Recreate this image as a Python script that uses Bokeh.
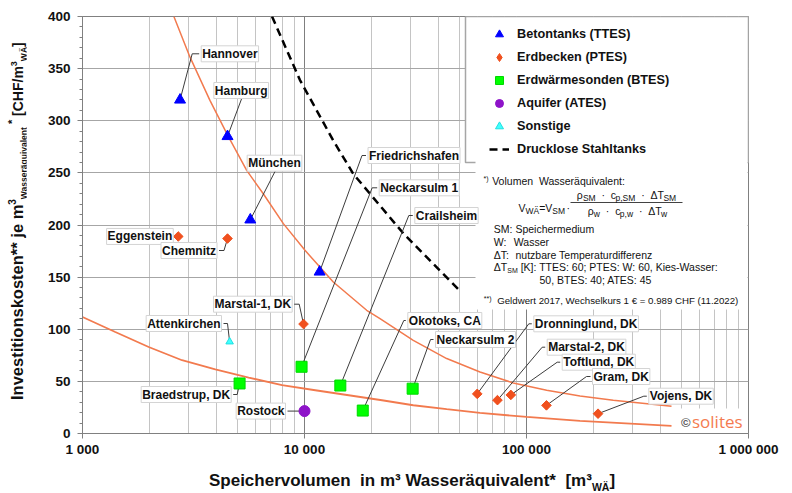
import math
from bokeh.plotting import figure
from bokeh.models import Range1d, FixedTicker, Label, Legend, LegendItem, Div
from bokeh.layouts import row, column
from bokeh.embed import file_html
from bokeh.resources import INLINE

# ---------------- data ----------------
TTES_NAMES = ["Hannover", "Hamburg", "München", "Friedrichshafen"]
TTES_VOL = [2750, 4500, 5700, 11700]
TTES_COST = [320, 285, 205, 155]

PTES_NAMES = ["Eggenstein", "Chemnitz", "Marstal-1, DK", "Dronninglund, DK",
              "Marstal-2, DK", "Toftlund, DK", "Gram, DK", "Vojens, DK"]
PTES_VOL = [2700, 4500, 9900, 60000, 74000, 85000, 123000, 210000]
PTES_COST = [189, 187, 105, 38, 32, 37, 27, 19]

BTES_NAMES = ["Neckarsulm 1", "Braedstrup, DK", "Crailsheim", "Okotoks, CA", "Neckarsulm 2"]
BTES_VOL = [9700, 5100, 14500, 18300, 30700]
BTES_COST = [64, 48, 46, 22, 43]

ATES_NAMES = ["Rostock"]
ATES_VOL = [10000]
ATES_COST = [21.5]

OTHER_NAMES = ["Attenkirchen"]
OTHER_VOL = [4600]
OTHER_COST = [88]

STEEL_VOL = [7140, 9540, 13480, 16590, 27860, 50000]
STEEL_COST = [400, 339, 281, 249, 192, 137]

TREND_HI_VOL = [2580, 3050, 3750, 4510, 5490, 6520, 8030, 10050, 13480, 19060, 21880,
                30900, 43700, 61740, 87200, 123300, 174200, 246000, 450000]
TREND_HI_COST = [400, 361, 319.5, 286, 252.4, 230, 201.3, 175.7, 145.3, 118.2, 110.2,
                 89.4, 71.9, 59.0, 48.5, 41.5, 36.0, 31.9, 26.2]

TREND_LO_VOL = [1000, 1405, 1987, 2807, 3965, 5606, 7919, 11185, 15815, 22340, 30900,
                43700, 61740, 100200, 174200, 450000]
TREND_LO_COST = [111.8, 97.4, 83.0, 70.3, 61.4, 53.7, 46.3, 41.5, 36.7, 31.9, 27.1,
                 23.3, 19.7, 15.9, 12.1, 7.3]

X_TICKS = [1000, 10000, 100000, 1000000]
X_TICK_LABELS = ["1 000", "10 000", "100 000", "1 000 000"]
Y_TICKS = list(range(0, 401, 50))
Y_MINOR = list(range(0, 401, 10))

LEGEND_LABELS = ["Betontanks (TTES)", "Erdbecken (PTES)", "Erdwärmesonden (BTES)",
                 "Aquifer (ATES)", "Sonstige", "Drucklose Stahltanks"]

# ---------------- layout helpers ----------------
PAGE_W, PAGE_H = 792, 493
YT_W = 26            # width of the y-title strip left of the figure
XT_H = 30            # height of the x-title strip below the figure
W, H = PAGE_W - YT_W, PAGE_H - XT_H
BL, BR, BT, BB = 82 - YT_W, 44, 16, 30
X0 = 82              # frame left, page px
Y0 = 433             # frame bottom, page px
DEC = (W - BL - BR) / 3.0
YS = (H - BT - BB) / 400.0


def dx(X):
    return 10 ** (3 + (X - X0) / DEC)


def dy(Y):
    return (Y0 - Y) / YS


def px(x):
    return X0 + DEC * (math.log10(x) - 3)


def py(y):
    return Y0 - y * YS


REG = {' ': 278, '\u00a0': 278, '*': 389, '(': 333, ')': 333, ',': 278, '-': 333, '.': 278,
       '/': 278, ':': 278, ';': 278, '=': 584, '[': 278, ']': 278, '€': 556, '·': 278,
       'A': 667, 'B': 667, 'C': 722, 'D': 722, 'E': 667, 'F': 611, 'G': 778, 'H': 722,
       'I': 278, 'K': 667, 'M': 833, 'P': 667, 'S': 667, 'T': 611, 'V': 667, 'W': 944,
       'Ä': 667, 'Δ': 668, 'a': 556, 'b': 556, 'c': 500, 'd': 556, 'e': 556, 'f': 278,
       'g': 556, 'h': 556, 'i': 222, 'k': 500, 'l': 222, 'm': 833, 'n': 556, 'o': 556,
       'p': 556, 'q': 556, 'r': 333, 's': 500, 't': 278, 'u': 556, 'v': 500, 'w': 722,
       'z': 500, 'ä': 556, 'ρ': 577}


def tw(text, size):
    return sum(REG.get(c, 556) for c in text) * size / 1000.0


FONT = "Liberation Sans"

p = figure(width=W, height=H, x_axis_type="log",
           x_range=Range1d(1000, 1000000), y_range=Range1d(0, 400),
           output_backend="svg", toolbar_location=None, margin=0,
           min_border_left=BL, min_border_right=BR, min_border_top=BT, min_border_bottom=BB)
p.background_fill_color = "white"
p.border_fill_color = "white"
p.outline_line_color = "#808080"
p.outline_line_width = 1


def lab(text, X, Y, size, bold=False, align="left", color="#111111", font=FONT, box=False):
    kw = {}
    if box:
        kw = dict(background_fill_color="white", border_line_color="#d4d4d4",
                  border_line_width=1, padding=1)
    l = Label(x=dx(X), y=dy(Y), text=text, text_font=font,
              text_font_size=f"{size}px", text_font_style="bold" if bold else "normal",
              text_align=align, text_baseline="middle", text_color=color, **kw)
    p.add_layout(l)


def run(pieces, X, Y):
    cur = X
    for text, size, shift in pieces:
        lab(text, cur, Y + shift, size)
        cur += tw(text, size)
    return cur


def run_width(pieces):
    return sum(tw(t, s) for t, s, _ in pieces)


# ---------------- axes & grids ----------------
xt = FixedTicker(ticks=X_TICKS, minor_ticks=[m * 10 ** k for k in (3, 4, 5) for m in range(2, 10)])
yt = FixedTicker(ticks=Y_TICKS, minor_ticks=Y_MINOR)
p.xaxis.ticker = xt
p.yaxis.ticker = yt
p.xgrid.ticker = xt
p.ygrid.ticker = yt
p.xaxis.major_label_overrides = {t: l for t, l in zip(X_TICKS, X_TICK_LABELS)}
p.xgrid.grid_line_color = "#7f7f7f"
p.xgrid.minor_grid_line_color = "#c4c4c4"
p.ygrid.grid_line_color = "#a6a6a6"
for ax in (p.xaxis[0], p.yaxis[0]):
    ax.axis_line_color = "#808080"
    ax.major_tick_line_color = "#808080"
    ax.minor_tick_line_color = "#808080"
    ax.major_tick_in = 0
    ax.major_tick_out = 5
    ax.minor_tick_in = 0
    ax.major_label_text_font = FONT
    ax.major_label_text_font_style = "bold"
    ax.major_label_text_font_size = "13.5px"
    ax.major_label_text_color = "#111111"
p.xaxis.minor_tick_line_color = None
p.xaxis.major_label_standoff = 3
p.yaxis.minor_tick_out = 3
p.yaxis.major_label_standoff = 7

# ---------------- curves ----------------
p.line(TREND_HI_VOL, TREND_HI_COST, line_color="#f27a4e", line_width=1.5)
p.line(TREND_LO_VOL, TREND_LO_COST, line_color="#f27a4e", line_width=1.8)
r_steel = p.line(STEEL_VOL, STEEL_COST, line_color="black", line_width=2.5, line_dash="8 5")

# ---------------- leader lines + label layout ----------------
SERIES = {
    "TTES": (TTES_NAMES, TTES_VOL, TTES_COST),
    "PTES": (PTES_NAMES, PTES_VOL, PTES_COST),
    "BTES": (BTES_NAMES, BTES_VOL, BTES_COST),
    "ATES": (ATES_NAMES, ATES_VOL, ATES_COST),
    "OTHER": (OTHER_NAMES, OTHER_VOL, OTHER_COST),
}
# (series, name, elbow X px, elbow Y px, stub px, centred-text Y px)
LABEL_LAYOUT = [
    ("TTES", "Hannover", 191.7, 53.3, 7, None),
    ("TTES", "Hamburg", 241.7, 96.7, 0, 90),
    ("TTES", "München", 275, 170, 0, 162.7),
    ("TTES", "Friedrichshafen", 361.5, 155, 4, None),
    ("PTES", "Eggenstein", None, None, -3, None),
    ("PTES", "Chemnitz", 223.5, 250, -5, None),
    ("PTES", "Marstal-1, DK", 298.7, 303.7, -5, None),
    ("PTES", "Dronninglund, DK", 528.3, 323.3, 3, None),
    ("PTES", "Marstal-2, DK", 541.7, 346.7, 3, None),
    ("PTES", "Toftlund, DK", 556.7, 361.7, 3, None),
    ("PTES", "Gram, DK", 586, 376, 4, None),
    ("PTES", "Vojens, DK", 643.3, 395.7, 3, None),
    ("BTES", "Neckarsulm 1", 371.7, 187.3, 5, None),
    ("BTES", "Braedstrup, DK", 236.7, 394, -4, None),
    ("BTES", "Crailsheim", 408.3, 215, 4, None),
    ("BTES", "Okotoks, CA", 403.3, 320, 2, None),
    ("BTES", "Neckarsulm 2", 430, 339, 3, None),
    ("ATES", "Rostock", None, None, -17, None),
    ("OTHER", "Attenkirchen", 227, 323, -4, None),
]

lead_xs, lead_ys, label_jobs = [], [], []
for key, name, ex, ey, stub, cy in LABEL_LAYOUT:
    names, vols, costs = SERIES[key]
    i = names.index(name)
    vx, vy = vols[i], costs[i]
    if ex is None:
        ex, ey = px(vx), py(vy)
    sx = ex + stub
    lead_xs.append([vx, dx(ex), dx(sx)])
    lead_ys.append([vy, dy(ey), dy(ey)])
    if cy is not None:
        label_jobs.append((name, ex - 1, cy, "center"))
    elif stub >= 0:
        label_jobs.append((name, sx + 2, ey, "left"))
    else:
        label_jobs.append((name, sx - 2, ey, "right"))
p.multi_line(lead_xs, lead_ys, line_color="#3c3c3c", line_width=1)

# ---------------- markers ----------------
r_t = p.scatter(TTES_VOL, TTES_COST, marker="triangle", size=11,
                fill_color="#0000ff", line_color="#0000ff")
# diamond renderer (legend swatch) sits underneath the rotated squares
r_p = p.scatter(PTES_VOL, PTES_COST, marker="diamond", size=8,
                fill_color="#f0501e", line_color="#f0501e")
p.scatter(PTES_VOL, PTES_COST, marker="square", angle=math.pi / 4, size=6.8,
          fill_color="#f0501e", line_color="#f0501e")
r_b = p.scatter(BTES_VOL, BTES_COST, marker="square", size=11,
                fill_color="#00ff00", line_color="#00d800")
r_a = p.scatter(ATES_VOL, ATES_COST, marker="circle", size=11,
                fill_color="#8e13c9", line_color="#8e13c9")
r_o = p.scatter(OTHER_VOL, OTHER_COST, marker="triangle", size=7.5,
                fill_color="#40ffff", line_color="#20e0e0")

# ---------------- boxes (legend, note, logo) ----------------
p.quad(left=[dx(465)], right=[dx(748)], top=[dy(16)], bottom=[dy(162)],
       fill_color="white", line_color="#a6a6a6", line_width=1.5)
p.quad(left=[dx(475)], right=[dx(747)], top=[dy(160.5)], bottom=[dy(309)],
       fill_color="white", line_color=None)
p.quad(left=[dx(671.7)], right=[dx(743.3)], top=[dy(408)], bottom=[dy(432.5)],
       fill_color="white", line_color=None)
p.segment(x0=[dx(570)], y0=[dy(202)], x1=[dx(682)], y1=[dy(202)],
          line_color="#111111", line_width=0.8)

# ---------------- legend ----------------
legend = Legend(items=[LegendItem(label=l, renderers=[r]) for l, r in
                       zip(LEGEND_LABELS, [r_t, r_p, r_b, r_a, r_o, r_steel])],
                location=(489 - X0, Y0 - 159), orientation="vertical",
                padding=0, spacing=3, margin=0, glyph_width=20, glyph_height=20,
                label_height=20, label_standoff=8,
                background_fill_alpha=0, border_line_alpha=0,
                label_text_font=FONT, label_text_font_size="12.7px",
                label_text_font_style="bold", label_text_color="#111111")
p.add_layout(legend)

# ---------------- point labels ----------------
for name, X, Y, align in label_jobs:
    lab(name, X, Y, 12, bold=True, align=align, box=True)

# ---------------- note box text ----------------
NB = "\u00a0"
lab("*)", 483, 177.5, 7)
lab("Volumen" + NB + " Wasseräquivalent:", 491.7, 180.7, 10.5)
run([("V", 10.5, 0), ("WÄ", 8.5, 3), ("=V", 10.5, 0), ("SM", 8.5, 3)], 518, 207.5)
lab("·", 566, 207.5, 10.5)
dot = NB + NB + "·" + NB + NB
num = [("ρ", 10.5, 0), ("SM", 8.5, 3), (dot + "c", 10.5, 0), ("p,SM", 8.5, 3),
       (dot + "ΔT", 10.5, 0), ("SM", 8.5, 3)]
den = [("ρ", 10.5, 0), ("w", 8.5, 3), (dot + "c", 10.5, 0), ("p,w", 8.5, 3),
       (dot + "ΔT", 10.5, 0), ("w", 8.5, 3)]
run(num, 626 - run_width(num) / 2, 194.5)
run(den, 627 - run_width(den) / 2, 210.5)
lab("SM: Speichermedium", 493.3, 228.3, 10.5)
lab("W:", 493.3, 241, 10.5)
lab("Wasser", 513.3, 241, 10.5)
lab("ΔT:", 493.3, 254, 10.5)
lab("nutzbare Temperaturdifferenz", 515, 254, 10.5)
run([("ΔT", 10.5, 0), ("SM", 7, 3), (NB + "[K]: TTES: 60; PTES: W: 60, Kies-Wasser:", 10.5, 0)],
    493.3, 266.7)
lab("50, BTES: 40; ATES: 45", 539, 279.3, 10.5)
lab("**)", 483.3, 297.5, 7)
lab("Geldwert 2017, Wechselkurs 1 € = 0.989 CHF (11.2022)", 496.7, 300, 9.7)

# ---------------- logo ----------------
lab("©", 680.5, 421.5, 13, bold=True, color="#555555")
lab("solites", 691.5, 420.5, 17, color="#f47b50", font="Open Sans")

# ---------------- axis titles (HTML strips around the figure) ----------------
TITLE_CSS = ("font-family:'Liberation Sans',Arial,sans-serif;font-weight:bold;color:#111;"
             "white-space:nowrap;overflow:visible;")
x_title_html = (
    f'<div style="position:relative;width:{W}px;height:{XT_H}px;">'
    f'<span style="position:absolute;left:{412 - YT_W}px;top:{484 - H}px;'
    f'transform:translate(-50%,-50%);font-size:17px;line-height:18px;{TITLE_CSS}">'
    'Speichervolumen&nbsp; in m³ Wasseräquivalent*&nbsp; [m³'
    '<sub style="font-size:10.5px;">WÄ</sub>]</span></div>'
)
y_title_html = (
    f'<div style="position:relative;width:{YT_W}px;height:{PAGE_H}px;">'
    f'<div style="position:absolute;left:0;top:{PAGE_H}px;width:{PAGE_H}px;height:{YT_W}px;'
    'transform-origin:0 0;transform:rotate(-90deg);">'
    f'<span style="position:absolute;left:{PAGE_H - 400}px;top:18.3px;'
    f'transform:translateY(-50%);font-size:16.5px;line-height:18px;{TITLE_CSS}">'
    'Investitionskosten** je m<sup style="font-size:10px;">3</sup>'
    '<sub style="font-size:8.5px;">Wasseräquivalent</sub>'
    '<sup style="font-size:11px;">&nbsp;*</sup>'
    '<span style="font-size:14px;"> [CHF/m<sup style="font-size:9px;">3</sup>'
    '<sub style="font-size:8.5px;">WÄ</sub>]</span></span></div></div>'
)
x_div = Div(text=x_title_html, width=W, height=XT_H, margin=0)
y_div = Div(text=y_title_html, width=YT_W, height=PAGE_H, margin=0)

layout = row(y_div, column(p, x_div, spacing=0), spacing=0)

open("out.html", "w").write(file_html(layout, INLINE))
